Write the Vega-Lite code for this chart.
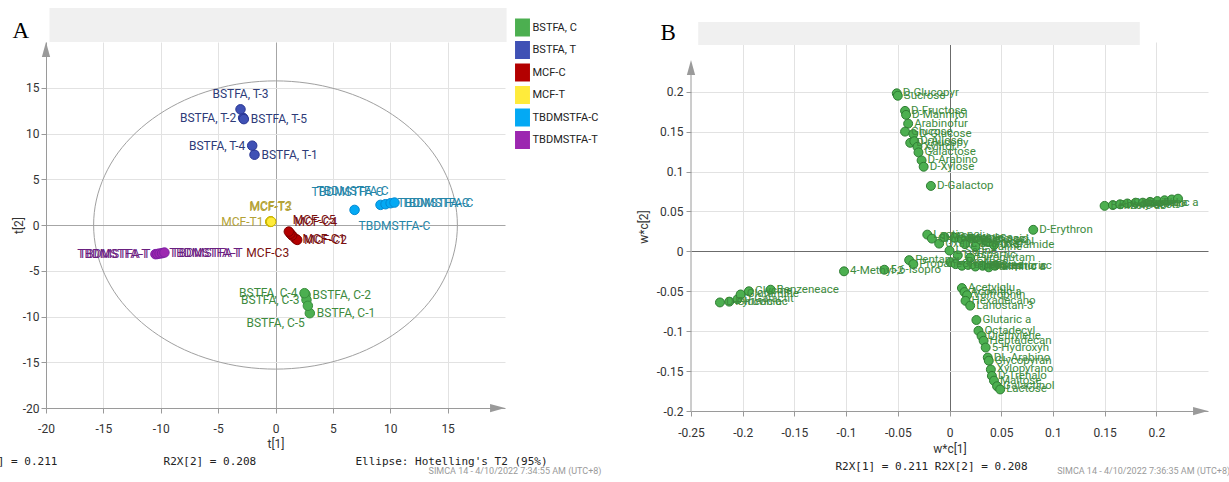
{
  "$schema": "https://vega.github.io/schema/vega-lite/v6.json",
  "autosize": {"type": "none"},
  "padding": {"left": 46, "top": 42, "right": 1183, "bottom": 440},
  "background": "white",
  "bounds": "flush",
  "spacing": 186,
  "config": {
    "view": {"stroke": null},
    "font": "Roboto",
    "axis": {
      "labelFont": "Roboto", "labelFontSize": 12, "labelColor": "#333",
      "titleFont": "Roboto", "titleFontSize": 12, "titleFontWeight": "normal", "titleColor": "#333",
      "domainColor": "#9a9a9a", "tickColor": "#9a9a9a", "labelFlush": false, "labelOverlap": false
    }
  },
  "datasets": {
    "one": [{}],
    "scores": [
      {"id": "BSTFA-C1", "label": "BSTFA, C-1", "group": "BSTFA, C", "t1": 2.99, "t2": -9.64},
      {"id": "BSTFA-C2", "label": "BSTFA, C-2", "group": "BSTFA, C", "t1": 2.62, "t2": -7.62},
      {"id": "BSTFA-C3", "label": "BSTFA, C-3", "group": "BSTFA, C", "t1": 2.70, "t2": -8.18},
      {"id": "BSTFA-C4", "label": "BSTFA, C-4", "group": "BSTFA, C", "t1": 2.53, "t2": -7.45},
      {"id": "BSTFA-C5", "label": "BSTFA, C-5", "group": "BSTFA, C", "t1": 2.82, "t2": -8.83},
      {"id": "BSTFA-T1", "label": "BSTFA, T-1", "group": "BSTFA, T", "t1": -1.83, "t2": 7.68},
      {"id": "BSTFA-T2", "label": "BSTFA, T-2", "group": "BSTFA, T", "t1": -2.82, "t2": 11.71},
      {"id": "BSTFA-T3", "label": "BSTFA, T-3", "group": "BSTFA, T", "t1": -3.05, "t2": 12.64},
      {"id": "BSTFA-T4", "label": "BSTFA, T-4", "group": "BSTFA, T", "t1": -2.03, "t2": 8.67},
      {"id": "BSTFA-T5", "label": "BSTFA, T-5", "group": "BSTFA, T", "t1": -2.76, "t2": 11.57},
      {"id": "MCF-C1", "label": "MCF-C1", "group": "MCF-C", "t1": 1.75, "t2": -1.50},
      {"id": "MCF-C2", "label": "MCF-C2", "group": "MCF-C", "t1": 1.89, "t2": -1.63},
      {"id": "MCF-C3", "label": "MCF-C3", "group": "MCF-C", "t1": 1.45, "t2": -1.15},
      {"id": "MCF-C4", "label": "MCF-C4", "group": "MCF-C", "t1": 1.30, "t2": -0.95},
      {"id": "MCF-C5", "label": "MCF-C5", "group": "MCF-C", "t1": 1.16, "t2": -0.72},
      {"id": "MCF-T1", "label": "MCF-T1", "group": "MCF-T", "t1": -0.44, "t2": 0.37},
      {"id": "MCF-T2", "label": "MCF-T2", "group": "MCF-T", "t1": -0.40, "t2": 0.40},
      {"id": "MCF-T3", "label": "MCF-T3", "group": "MCF-T", "t1": -0.46, "t2": 0.34},
      {"id": "MCF-T4", "label": "MCF-T4", "group": "MCF-T", "t1": -0.42, "t2": 0.38},
      {"id": "MCF-T5", "label": "MCF-T5", "group": "MCF-T", "t1": -0.38, "t2": 0.36},
      {"id": "TBDMSTFA-C1", "label": "TBDMSTFA-C", "group": "TBDMSTFA-C", "t1": 6.89, "t2": 1.65},
      {"id": "TBDMSTFA-C2", "label": "TBDMSTFA-C", "group": "TBDMSTFA-C", "t1": 9.15, "t2": 2.20},
      {"id": "TBDMSTFA-C3", "label": "TBDMSTFA-C", "group": "TBDMSTFA-C", "t1": 9.59, "t2": 2.27},
      {"id": "TBDMSTFA-C4", "label": "TBDMSTFA-C", "group": "TBDMSTFA-C", "t1": 10.03, "t2": 2.38},
      {"id": "TBDMSTFA-C5", "label": "TBDMSTFA-C", "group": "TBDMSTFA-C", "t1": 10.37, "t2": 2.45},
      {"id": "TBDMSTFA-T1", "label": "TBDMSTFA-T", "group": "TBDMSTFA-T", "t1": -10.46, "t2": -3.19},
      {"id": "TBDMSTFA-T2", "label": "TBDMSTFA-T", "group": "TBDMSTFA-T", "t1": -10.30, "t2": -3.17},
      {"id": "TBDMSTFA-T3", "label": "TBDMSTFA-T", "group": "TBDMSTFA-T", "t1": -10.10, "t2": -3.12},
      {"id": "TBDMSTFA-T4", "label": "TBDMSTFA-T", "group": "TBDMSTFA-T", "t1": -9.88, "t2": -3.08},
      {"id": "TBDMSTFA-T5", "label": "TBDMSTFA-T", "group": "TBDMSTFA-T", "t1": -9.68, "t2": -3.01}
    ],
    "ellipse": [
      {"i": 0, "ex": 15.85, "ey": 0}, {"i": 1, "ex": 15.61, "ey": 2.73}, {"i": 2, "ex": 14.89, "ey": 5.39},
      {"i": 3, "ex": 13.73, "ey": 7.88}, {"i": 4, "ex": 12.14, "ey": 10.12}, {"i": 5, "ex": 10.19, "ey": 12.06},
      {"i": 6, "ex": 7.93, "ey": 13.64}, {"i": 7, "ex": 5.42, "ey": 14.80}, {"i": 8, "ex": 2.75, "ey": 15.51},
      {"i": 9, "ex": 0, "ey": 15.75}, {"i": 10, "ex": -2.75, "ey": 15.51}, {"i": 11, "ex": -5.42, "ey": 14.80},
      {"i": 12, "ex": -7.93, "ey": 13.64}, {"i": 13, "ex": -10.19, "ey": 12.06}, {"i": 14, "ex": -12.14, "ey": 10.12},
      {"i": 15, "ex": -13.73, "ey": 7.88}, {"i": 16, "ex": -14.89, "ey": 5.39}, {"i": 17, "ex": -15.61, "ey": 2.73},
      {"i": 18, "ex": -15.85, "ey": 0}, {"i": 19, "ex": -15.61, "ey": -2.73}, {"i": 20, "ex": -14.89, "ey": -5.39},
      {"i": 21, "ex": -13.73, "ey": -7.88}, {"i": 22, "ex": -12.14, "ey": -10.12}, {"i": 23, "ex": -10.19, "ey": -12.06},
      {"i": 24, "ex": -7.93, "ey": -13.64}, {"i": 25, "ex": -5.42, "ey": -14.80}, {"i": 26, "ex": -2.75, "ey": -15.51},
      {"i": 27, "ex": 0, "ey": -15.75}, {"i": 28, "ex": 2.75, "ey": -15.51}, {"i": 29, "ex": 5.42, "ey": -14.80},
      {"i": 30, "ex": 7.93, "ey": -13.64}, {"i": 31, "ex": 10.19, "ey": -12.06}, {"i": 32, "ex": 12.14, "ey": -10.12},
      {"i": 33, "ex": 13.73, "ey": -7.88}, {"i": 34, "ex": 14.89, "ey": -5.39}, {"i": 35, "ex": 15.61, "ey": -2.73}
    ],
    "loadings": [
      {"name": "D-Glucopyr", "w1": -0.051, "w2": 0.198},
      {"name": "Sucrose", "w1": -0.050, "w2": 0.195},
      {"name": "D-Fructose", "w1": -0.043, "w2": 0.176},
      {"name": "D-Mannitol", "w1": -0.042, "w2": 0.171},
      {"name": "Arabinofur", "w1": -0.040, "w2": 0.160},
      {"name": "Glucose", "w1": -0.043, "w2": 0.150},
      {"name": "D-Glucose", "w1": -0.035, "w2": 0.147},
      {"name": "D-Glucopy", "w1": -0.038, "w2": 0.136},
      {"name": "D-Allose", "w1": -0.034, "w2": 0.138},
      {"name": "Xylitol", "w1": -0.031, "w2": 0.131},
      {"name": "Galactose", "w1": -0.030, "w2": 0.124},
      {"name": "D-Arabino", "w1": -0.027, "w2": 0.114},
      {"name": "D-Xylose", "w1": -0.025, "w2": 0.106},
      {"name": "D-Galactop", "w1": -0.018, "w2": 0.082},
      {"name": "D-Gluconic", "w1": -0.222, "w2": -0.064},
      {"name": "Pyruvic ac", "w1": -0.213, "w2": -0.063},
      {"name": "D-Galactit", "w1": -0.205, "w2": -0.060},
      {"name": "Glutamine", "w1": -0.202, "w2": -0.054},
      {"name": "Glycine", "w1": -0.194, "w2": -0.050},
      {"name": "Benzeneace", "w1": -0.173, "w2": -0.048},
      {"name": "4-Methyl-2", "w1": -0.102, "w2": -0.025},
      {"name": "5,6-Isopro", "w1": -0.063, "w2": -0.023},
      {"name": "Pentane", "w1": -0.039, "w2": -0.011},
      {"name": "Propane", "w1": -0.035, "w2": -0.016},
      {"name": "Lactic aci", "w1": -0.0215, "w2": 0.021},
      {"name": "Glycolic a", "w1": -0.017, "w2": 0.016},
      {"name": "Oxalic aci", "w1": -0.010, "w2": 0.0097},
      {"name": "Malonic ac", "w1": -0.005, "w2": 0.018},
      {"name": "Succinic a", "w1": 0.005, "w2": 0.017},
      {"name": "Fumaric ac", "w1": 0.012, "w2": 0.015},
      {"name": "Malic acid", "w1": 0.020, "w2": 0.016},
      {"name": "Citric aci", "w1": 0.028, "w2": 0.014},
      {"name": "Glycerol", "w1": 0.036, "w2": 0.012},
      {"name": "Oxalamide", "w1": 0.043, "w2": 0.008},
      {"name": "L-Alanine", "w1": 0.015, "w2": 0.009},
      {"name": "L-Valine", "w1": 0.025, "w2": 0.006},
      {"name": "L-Serine", "w1": 0.0, "w2": 0.001},
      {"name": "L-Proline", "w1": 0.001, "w2": -0.0135},
      {"name": "Glycine-2", "w1": 0.006, "w2": -0.016},
      {"name": "L-Threonin", "w1": 0.012, "w2": -0.018},
      {"name": "L-Leucine", "w1": 0.018, "w2": -0.017},
      {"name": "Urea", "w1": 0.025, "w2": -0.019},
      {"name": "Phosphoric", "w1": 0.032, "w2": -0.018},
      {"name": "Palmitic a", "w1": 0.038, "w2": -0.020},
      {"name": "Stearic ac", "w1": 0.044, "w2": -0.018},
      {"name": "L-Aspartic", "w1": 0.008, "w2": -0.005},
      {"name": "Pyroglutam", "w1": 0.020, "w2": -0.008},
      {"name": "D-Erythron", "w1": 0.081, "w2": 0.027},
      {"name": "Benzoic ac", "w1": 0.150, "w2": 0.057},
      {"name": "Phenylacet", "w1": 0.158, "w2": 0.058},
      {"name": "Hydroquino", "w1": 0.165, "w2": 0.059},
      {"name": "Catechol", "w1": 0.172, "w2": 0.060},
      {"name": "Vanillic a", "w1": 0.180, "w2": 0.061},
      {"name": "Syringic a", "w1": 0.187, "w2": 0.061},
      {"name": "Ferulic ac", "w1": 0.194, "w2": 0.062},
      {"name": "Caffeic ac", "w1": 0.201, "w2": 0.063},
      {"name": "Gallic aci", "w1": 0.208, "w2": 0.064},
      {"name": "Sinapic ac", "w1": 0.215, "w2": 0.065},
      {"name": "Coumaric", "w1": 0.221, "w2": 0.066},
      {"name": "Acetylglu", "w1": 0.012, "w2": -0.046},
      {"name": "Aconitic a", "w1": 0.0145, "w2": -0.051},
      {"name": "Valtrophin", "w1": 0.017, "w2": -0.055},
      {"name": "Hexadecano", "w1": 0.0155, "w2": -0.062},
      {"name": "Lanostan-3", "w1": 0.020, "w2": -0.068},
      {"name": "Glutaric a", "w1": 0.026, "w2": -0.086},
      {"name": "Octadecyl", "w1": 0.028, "w2": -0.0995},
      {"name": "Diethylene", "w1": 0.031, "w2": -0.106},
      {"name": "Heptadecan", "w1": 0.033, "w2": -0.112},
      {"name": "5-Hydroxyh", "w1": 0.035, "w2": -0.1205},
      {"name": "DL-Arabino", "w1": 0.037, "w2": -0.133},
      {"name": "Glycopyran", "w1": 0.038, "w2": -0.137},
      {"name": "Xylopyrano", "w1": 0.040, "w2": -0.148},
      {"name": "D-Trehalo", "w1": 0.041, "w2": -0.156},
      {"name": "Maltose", "w1": 0.043, "w2": -0.162},
      {"name": "Galactinol", "w1": 0.046, "w2": -0.169},
      {"name": "Lactose", "w1": 0.049, "w2": -0.173}
    ]
  },
  "hconcat": [
    {
      "width": 459,
      "height": 366,
      "resolve": {"scale": {"color": "independent"}},
      "layer": [
        {
          "data": {"name": "one"},
          "mark": {"type": "rect", "color": "#f0f0f0"},
          "encoding": {
            "x": {"datum": -19.7, "scale": {"domain": [-20, 20], "nice": false, "zero": false}},
            "x2": {"datum": 20.14},
            "y": {"datum": 20, "scale": {"domain": [-20, 20], "nice": false, "zero": false}},
            "y2": {"datum": 23.71}
          }
        },
        {
          "data": {"name": "one"},
          "mark": {"type": "text", "font": "Liberation Serif", "fontSize": 23, "align": "center", "baseline": "alphabetic", "color": "#000"},
          "encoding": {
            "x": {"datum": -22.2, "scale": {"domain": [-20, 20], "nice": false, "zero": false}},
            "y": {"datum": 20.4, "scale": {"domain": [-20, 20], "nice": false, "zero": false}},
            "text": {"value": "A"}
          }
        },
        {
          "data": {"name": "ellipse"},
          "mark": {"type": "line", "interpolate": "cardinal-closed", "color": "#a0a0a0", "strokeWidth": 1},
          "encoding": {
            "x": {"field": "ex", "type": "quantitative", "scale": {"domain": [-20, 20], "nice": false, "zero": false}},
            "y": {"field": "ey", "type": "quantitative", "scale": {"domain": [-20, 20], "nice": false, "zero": false}},
            "order": {"field": "i"}
          }
        },
        {
          "data": {"name": "scores"},
          "mark": {"type": "circle", "size": 90, "opacity": 1, "strokeWidth": 1},
          "encoding": {
            "x": {"field": "t1", "type": "quantitative", "scale": {"domain": [-20, 20], "nice": false, "zero": false},
              "axis": {
                "title": "t[1]",
                "values": [-20, -17.5, -15, -12.5, -10, -7.5, -5, -2.5, 0, 2.5, 5, 7.5, 10, 12.5, 15, 17.5],
                "labelExpr": "datum.value % 5 === 0 ? '' + datum.value : ''",
                "grid": true,
                "gridColor": {"condition": {"test": "datum.value === 0", "value": "#a6a6a6"}, "value": "#e2e2e2"},
                "gridOpacity": {"condition": {"test": "datum.value % 5 === 0 && datum.value > -20", "value": 1}, "value": 0},
                "tickSize": {"condition": {"test": "datum.value % 5 === 0", "value": 5}, "value": 3},
                "labelPadding": 10,
                "titlePadding": 4
              }},
            "y": {"field": "t2", "type": "quantitative", "scale": {"domain": [-20, 20], "nice": false, "zero": false},
              "axis": {
                "title": "t[2]",
                "values": [-20, -17.5, -15, -12.5, -10, -7.5, -5, -2.5, 0, 2.5, 5, 7.5, 10, 12.5, 15, 17.5],
                "labelExpr": "datum.value % 5 === 0 ? '' + datum.value : ''",
                "grid": true,
                "gridColor": {"condition": {"test": "datum.value === 0", "value": "#a6a6a6"}, "value": "#e2e2e2"},
                "gridOpacity": {"condition": {"test": "datum.value % 5 === 0 && datum.value > -20", "value": 1}, "value": 0},
                "tickSize": {"condition": {"test": "datum.value % 5 === 0", "value": 5}, "value": 3},
                "labelPadding": 2,
                "titlePadding": -3
              }},
            "color": {"field": "group", "type": "nominal",
              "scale": {"domain": ["BSTFA, C", "BSTFA, T", "MCF-C", "MCF-T", "TBDMSTFA-C", "TBDMSTFA-T"],
                        "range": ["#4caf50", "#3f51b5", "#b30000", "#ffeb3b", "#03a9f4", "#9c27b0"]},
              "legend": {"orient": "none", "legendX": 467.5, "legendY": -23.5, "title": null,
                "symbolType": "M-0.83,-1L0.83,-1L0.83,1L-0.83,1Z", "symbolSize": 324, "symbolStrokeWidth": 0,
                "symbolOpacity": 1, "labelFont": "Roboto", "labelFontSize": 11, "labelColor": "#222",
                "rowPadding": 4.5, "labelOffset": 1}},
            "stroke": {"field": "group", "type": "nominal",
              "scale": {"domain": ["BSTFA, C", "BSTFA, T", "MCF-C", "MCF-T", "TBDMSTFA-C", "TBDMSTFA-T"],
                        "range": ["#388e3c", "#283593", "#7f0000", "#c9b400", "#0288d1", "#7b1fa2"]},
              "legend": null}
          }
        },
        {
          "data": {"name": "scores"},
          "encoding": {
            "x": {"field": "t1", "type": "quantitative", "scale": {"domain": [-20, 20], "nice": false, "zero": false}},
            "y": {"field": "t2", "type": "quantitative", "scale": {"domain": [-20, 20], "nice": false, "zero": false}},
            "text": {"field": "label"},
            "color": {"field": "group", "type": "nominal",
              "scale": {"domain": ["BSTFA, C", "BSTFA, T", "MCF-C", "MCF-T", "TBDMSTFA-C", "TBDMSTFA-T"],
                        "range": ["#3d8a3d", "#2e3b78", "#7a1010", "#b3a236", "#2585a8", "#6a2080"]},
              "legend": null}
          },
          "layer": [
            {"transform": [{"filter": {"field": "id", "oneOf": ["BSTFA-T5", "BSTFA-T1", "BSTFA-C2", "BSTFA-C1", "MCF-C1", "MCF-C2", "TBDMSTFA-C4", "TBDMSTFA-C5", "TBDMSTFA-T4", "TBDMSTFA-T5"]}}],
             "mark": {"type": "text", "align": "left", "baseline": "middle", "dx": 7, "font": "Roboto", "fontSize": 12}},
            {"transform": [{"filter": {"field": "id", "oneOf": ["BSTFA-T2", "BSTFA-T4", "BSTFA-C4", "BSTFA-C3", "MCF-T1", "TBDMSTFA-T1", "TBDMSTFA-T2"]}}],
             "mark": {"type": "text", "align": "right", "baseline": "middle", "dx": -7, "font": "Roboto", "fontSize": 12}},
            {"transform": [{"filter": {"field": "id", "oneOf": ["BSTFA-T3", "MCF-T2", "MCF-T3"]}}],
             "mark": {"type": "text", "align": "center", "baseline": "middle", "dy": -15, "font": "Roboto", "fontSize": 12}},
            {"transform": [{"filter": {"field": "id", "oneOf": ["MCF-C5", "MCF-C4"]}}],
             "mark": {"type": "text", "align": "left", "baseline": "middle", "dx": 4, "dy": -12, "font": "Roboto", "fontSize": 12}},
            {"transform": [{"filter": {"field": "id", "oneOf": ["TBDMSTFA-C2", "TBDMSTFA-C3"]}}],
             "mark": {"type": "text", "align": "right", "baseline": "middle", "dx": 3, "dy": -13, "font": "Roboto", "fontSize": 12}},
            {"transform": [{"filter": {"field": "id", "oneOf": ["BSTFA-C5", "MCF-C3"]}}],
             "mark": {"type": "text", "align": "right", "baseline": "middle", "dx": -3, "dy": 17, "font": "Roboto", "fontSize": 12}},
            {"transform": [{"filter": {"field": "id", "oneOf": ["TBDMSTFA-C1"]}}],
             "mark": {"type": "text", "align": "left", "baseline": "middle", "dx": 4, "dy": 16, "font": "Roboto", "fontSize": 12}}
          ]
        },
        {
          "data": {"name": "one"},
          "mark": {"type": "point", "shape": "M-1,-0.55L1,0L-1,0.55Z", "size": 225, "filled": true, "color": "#9a9a9a", "opacity": 1, "strokeWidth": 0},
          "encoding": {
            "x": {"datum": 19.35, "scale": {"domain": [-20, 20], "nice": false, "zero": false}},
            "y": {"datum": -20, "scale": {"domain": [-20, 20], "nice": false, "zero": false}}
          }
        },
        {
          "data": {"name": "one"},
          "mark": {"type": "point", "shape": "M-0.55,1L0,-1L0.55,1Z", "size": 225, "filled": true, "color": "#9a9a9a", "opacity": 1, "strokeWidth": 0},
          "encoding": {
            "x": {"datum": -20, "scale": {"domain": [-20, 20], "nice": false, "zero": false}},
            "y": {"datum": 19.18, "scale": {"domain": [-20, 20], "nice": false, "zero": false}}
          }
        },
        {
          "data": {"name": "one"},
          "mark": {"type": "text", "font": "DejaVu Sans Mono", "fontSize": 11, "align": "right", "baseline": "middle", "color": "#222"},
          "encoding": {
            "x": {"datum": -19.0, "scale": {"domain": [-20, 20], "nice": false, "zero": false}},
            "y": {"datum": -25.86, "scale": {"domain": [-20, 20], "nice": false, "zero": false}},
            "text": {"value": "R2X[1] = 0.211"}
          }
        },
        {
          "data": {"name": "one"},
          "mark": {"type": "text", "font": "DejaVu Sans Mono", "fontSize": 11, "align": "left", "baseline": "middle", "color": "#222"},
          "encoding": {
            "x": {"datum": -9.76, "scale": {"domain": [-20, 20], "nice": false, "zero": false}},
            "y": {"datum": -25.86, "scale": {"domain": [-20, 20], "nice": false, "zero": false}},
            "text": {"value": "R2X[2] = 0.208"}
          }
        },
        {
          "data": {"name": "one"},
          "mark": {"type": "text", "font": "DejaVu Sans Mono", "fontSize": 11, "align": "left", "baseline": "middle", "color": "#222"},
          "encoding": {
            "x": {"datum": 6.97, "scale": {"domain": [-20, 20], "nice": false, "zero": false}},
            "y": {"datum": -25.86, "scale": {"domain": [-20, 20], "nice": false, "zero": false}},
            "text": {"value": "Ellipse: Hotelling's T2 (95%)"}
          }
        },
        {
          "data": {"name": "one"},
          "mark": {"type": "text", "font": "Roboto", "fontSize": 9, "align": "left", "baseline": "middle", "color": "#9a9a9a"},
          "encoding": {
            "x": {"datum": 13.34, "scale": {"domain": [-20, 20], "nice": false, "zero": false}},
            "y": {"datum": -26.84, "scale": {"domain": [-20, 20], "nice": false, "zero": false}},
            "text": {"value": "SIMCA 14 - 4/10/2022 7:34:55 AM (UTC+8)"}
          }
        }
      ]
    },
    {
      "width": 517,
      "height": 369,
      "layer": [
        {
          "data": {"name": "one"},
          "mark": {"type": "rect", "color": "#f0f0f0"},
          "encoding": {
            "x": {"datum": -0.243, "scale": {"domain": [-0.25, 0.25], "nice": false, "zero": false}},
            "x2": {"datum": 0.184},
            "y": {"datum": 0.2585, "scale": {"domain": [-0.2, 0.2623], "nice": false, "zero": false}},
            "y2": {"datum": 0.2873}
          }
        },
        {
          "data": {"name": "one"},
          "mark": {"type": "text", "font": "Liberation Serif", "fontSize": 23, "align": "center", "baseline": "alphabetic", "color": "#000"},
          "encoding": {
            "x": {"datum": -0.272, "scale": {"domain": [-0.25, 0.25], "nice": false, "zero": false}},
            "y": {"datum": 0.2648, "scale": {"domain": [-0.2, 0.2623], "nice": false, "zero": false}},
            "text": {"value": "B"}
          }
        },
        {
          "data": {"name": "one"},
          "mark": {"type": "rule", "color": "#9a9a9a"},
          "encoding": {
            "x": {"datum": -0.25, "scale": {"domain": [-0.25, 0.25], "nice": false, "zero": false}},
            "y": {"datum": -0.2, "scale": {"domain": [-0.2, 0.2623], "nice": false, "zero": false}},
            "y2": {"datum": 0.2303}
          }
        },
        {
          "data": {"name": "loadings"},
          "mark": {"type": "circle", "size": 80, "opacity": 1, "color": "#4caf50", "stroke": "#2e7d32", "strokeWidth": 1},
          "encoding": {
            "x": {"field": "w1", "type": "quantitative", "scale": {"domain": [-0.25, 0.25], "nice": false, "zero": false},
              "axis": {
                "title": "w*c[1]",
                "values": [-0.25, -0.225, -0.2, -0.175, -0.15, -0.125, -0.1, -0.075, -0.05, -0.025, 0, 0.025, 0.05, 0.075, 0.1, 0.125, 0.15, 0.175, 0.2, 0.225],
                "labelExpr": "abs(datum.value * 20 - round(datum.value * 20)) < 0.001 ? '' + datum.value : ''",
                "grid": true,
                "gridColor": {"condition": {"test": "datum.value === 0", "value": "#6b6b6b"}, "value": "#e2e2e2"},
                "gridOpacity": {"condition": {"test": "abs(datum.value * 20 - round(datum.value * 20)) < 0.001 && datum.value > -0.24", "value": 1}, "value": 0},
                "tickSize": {"condition": {"test": "abs(datum.value * 20 - round(datum.value * 20)) < 0.001", "value": 5}, "value": 3},
                "labelPadding": 11,
                "titlePadding": 5
              }},
            "y": {"field": "w2", "type": "quantitative", "scale": {"domain": [-0.2, 0.2623], "nice": false, "zero": false},
              "axis": {
                "title": "w*c[2]",
                "domain": false,
                "values": [-0.2, -0.175, -0.15, -0.125, -0.1, -0.075, -0.05, -0.025, 0, 0.025, 0.05, 0.075, 0.1, 0.125, 0.15, 0.175, 0.2, 0.225],
                "labelExpr": "abs(datum.value * 20 - round(datum.value * 20)) < 0.001 ? '' + datum.value : ''",
                "grid": true,
                "gridColor": {"condition": {"test": "datum.value === 0", "value": "#6b6b6b"}, "value": "#e2e2e2"},
                "gridOpacity": {"condition": {"test": "abs(datum.value * 20 - round(datum.value * 20)) < 0.001 && datum.value > -0.19", "value": 1}, "value": 0},
                "tickSize": {"condition": {"test": "abs(datum.value * 20 - round(datum.value * 20)) < 0.001", "value": 5}, "value": 3},
                "labelPadding": 3,
                "titlePadding": 6
              }}
          }
        },
        {
          "data": {"name": "loadings"},
          "transform": [{"filter": "datum.w1 < 0.19"}],
          "mark": {"type": "text", "align": "left", "baseline": "middle", "dx": 6, "font": "Roboto", "fontSize": 11.5, "color": "#3d8b3d"},
          "encoding": {
            "x": {"field": "w1", "type": "quantitative", "scale": {"domain": [-0.25, 0.25], "nice": false, "zero": false}},
            "y": {"field": "w2", "type": "quantitative", "scale": {"domain": [-0.2, 0.2623], "nice": false, "zero": false}},
            "text": {"field": "name"}
          }
        },
        {
          "data": {"name": "one"},
          "mark": {"type": "point", "shape": "M-1,-0.55L1,0L-1,0.55Z", "size": 225, "filled": true, "color": "#9a9a9a", "opacity": 1, "strokeWidth": 0},
          "encoding": {
            "x": {"datum": 0.2428, "scale": {"domain": [-0.25, 0.25], "nice": false, "zero": false}},
            "y": {"datum": -0.2, "scale": {"domain": [-0.2, 0.2623], "nice": false, "zero": false}}
          }
        },
        {
          "data": {"name": "one"},
          "mark": {"type": "point", "shape": "M-0.55,1L0,-1L0.55,1Z", "size": 225, "filled": true, "color": "#9a9a9a", "opacity": 1, "strokeWidth": 0},
          "encoding": {
            "x": {"datum": -0.25, "scale": {"domain": [-0.25, 0.25], "nice": false, "zero": false}},
            "y": {"datum": 0.2303, "scale": {"domain": [-0.2, 0.2623], "nice": false, "zero": false}}
          }
        },
        {
          "data": {"name": "one"},
          "mark": {"type": "text", "font": "DejaVu Sans Mono", "fontSize": 11, "align": "center", "baseline": "middle", "color": "#222"},
          "encoding": {
            "x": {"datum": -0.0174, "scale": {"domain": [-0.25, 0.25], "nice": false, "zero": false}},
            "y": {"datum": -0.2705, "scale": {"domain": [-0.2, 0.2623], "nice": false, "zero": false}},
            "text": {"value": "R2X[1] = 0.211 R2X[2] = 0.208"}
          }
        },
        {
          "data": {"name": "one"},
          "mark": {"type": "text", "font": "Roboto", "fontSize": 9, "align": "left", "baseline": "middle", "color": "#9a9a9a"},
          "encoding": {
            "x": {"datum": 0.1042, "scale": {"domain": [-0.25, 0.25], "nice": false, "zero": false}},
            "y": {"datum": -0.2756, "scale": {"domain": [-0.2, 0.2623], "nice": false, "zero": false}},
            "text": {"value": "SIMCA 14 - 4/10/2022 7:36:35 AM (UTC+8)"}
          }
        }
      ]
    }
  ]
}
